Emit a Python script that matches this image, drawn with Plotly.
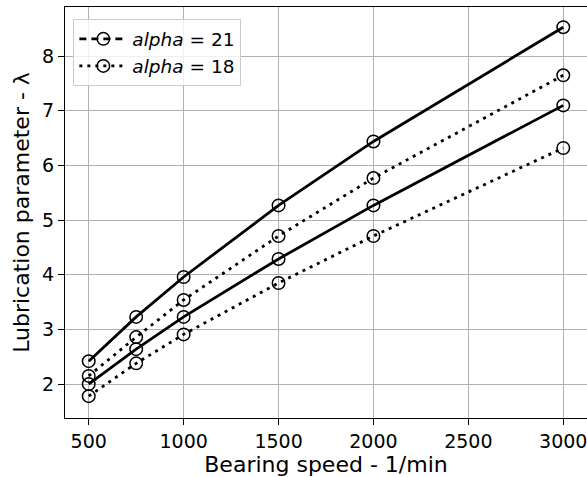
import plotly.graph_objects as go

# Bearing speed (1/min)
speed = [500, 750, 1000, 1500, 2000, 3000]

# Lubrication parameter lambda for two contact angles, two cases each
lam_a21_high = [2.42, 3.23, 3.96, 5.27, 6.44, 8.53]
lam_a21_low = [2.00, 2.64, 3.23, 4.29, 5.27, 7.10]
lam_a18_high = [2.15, 2.86, 3.54, 4.71, 5.77, 7.65]
lam_a18_low = [1.78, 2.38, 2.91, 3.85, 4.71, 6.32]

x_ticks = [500, 1000, 1500, 2000, 2500, 3000]
y_ticks = [2, 3, 4, 5, 6, 7, 8]

FONT = "DejaVu Sans"
marker = dict(symbol="circle-open", size=12.5, color="black", line=dict(width=1.5, color="black"))
dotted = "3px,5px"

fig = go.Figure()

series = [
    (lam_a21_high, "solid"),
    (lam_a21_low, "solid"),
    (lam_a18_high, dotted),
    (lam_a18_low, dotted),
]
for ys, dash in series:
    fig.add_trace(go.Scatter(
        x=speed, y=ys, mode="lines+markers",
        line=dict(color="black", width=2.8, dash=dash),
        marker=marker, showlegend=False,
    ))

# Legend entries
fig.add_trace(go.Scatter(
    x=[None], y=[None], mode="lines+markers", name="<i>alpha</i> = 21",
    line=dict(color="black", width=2.8, dash="7px,5px"), marker=marker,
))
fig.add_trace(go.Scatter(
    x=[None], y=[None], mode="lines+markers", name="<i>alpha</i> = 18",
    line=dict(color="black", width=2.8, dash=dotted), marker=marker,
))

axis_common = dict(
    showgrid=True, gridcolor="#b0b0b0", gridwidth=1.2,
    showline=True, linecolor="black", linewidth=1.3, mirror=True,
    ticks="outside", ticklen=6, tickwidth=1.3, tickcolor="black",
    tickfont=dict(family=FONT, size=19, color="black"),
    zeroline=False, automargin=False, ticklabeloverflow="allow",
)

fig.update_xaxes(
    range=[375, 3125], tickvals=x_ticks,
    title=dict(text="Bearing speed - 1/min", font=dict(family=FONT, size=22, color="black"), standoff=4),
    **axis_common,
)
fig.update_yaxes(
    range=[1.38, 8.9], tickvals=y_ticks,
    title=dict(text="Lubrication parameter - λ", font=dict(family=FONT, size=22, color="black"), standoff=6),
    **axis_common,
)

fig.update_layout(
    width=587, height=477,
    margin=dict(l=65, r=0, t=7, b=59),
    paper_bgcolor="white", plot_bgcolor="white",
    font=dict(family=FONT, color="black"),
    legend=dict(
        x=0.016, y=0.97, xanchor="left", yanchor="top",
        bgcolor="rgba(255,255,255,0.8)", bordercolor="#cccccc", borderwidth=1,
        font=dict(family=FONT, size=18.5, color="black"),
        itemwidth=48, tracegroupgap=0,
    ),
)

fig.write_html("out.html")
